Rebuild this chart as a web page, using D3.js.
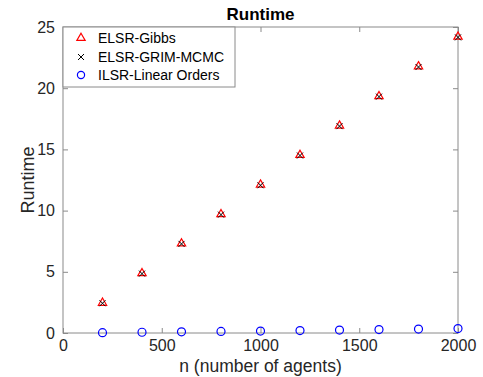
<!DOCTYPE html>
<html>
<head>
<meta charset="utf-8">
<script src="https://cdn.jsdelivr.net/npm/d3@7"></script>
<style>
  body { margin: 0; background: #fff; }
  text { font-family: "Liberation Sans", Arial, Helvetica, sans-serif; }
</style>
</head>
<body>
<div id="chart"></div>
<script>
const agents = [200, 400, 600, 800, 1000, 1200, 1400, 1600, 1800, 2000]
const gibbs = [2.42, 4.84, 7.27, 9.66, 12.08, 14.5, 16.9, 19.3, 21.74, 24.16]
const grim = [2.43, 4.85, 7.28, 9.67, 12.07, 14.5, 16.9, 19.31, 21.73, 24.15]
const linear = [0.03, 0.06, 0.1, 0.13, 0.16, 0.2, 0.24, 0.28, 0.32, 0.36]
const xTicks = [0, 500, 1000, 1500, 2000]
const yTicks = [0, 5, 10, 15, 20, 25]
const legendNames = ["ELSR-Gibbs", "ELSR-GRIM-MCMC", "ILSR-Linear Orders"]

const W = 483, H = 377
const plotL = 63, plotR = 458, plotT = 27, plotB = 333

const svg = d3.select("#chart").append("svg")
    .attr("width", W)
    .attr("height", H)

const x = d3.scaleLinear().domain([0, 2000]).range([plotL, plotR])
const y = d3.scaleLinear().domain([0, 25]).range([plotB, plotT])

const axisCol = "#8a8a8a"
const textCol = "#262626"

// ticks inside, on all four sides
function styleAxis(g) {
    g.select(".domain").remove()
    g.selectAll(".tick line").attr("stroke", axisCol)
    g.selectAll(".tick text").attr("fill", textCol).style("font-size", "16px")
}
svg.append("g").attr("transform", `translate(0,${plotB})`)
    .call(d3.axisBottom(x).tickValues(xTicks).tickSize(-5).tickPadding(7).tickFormat(d3.format("d")))
    .call(styleAxis)
svg.append("g").attr("transform", `translate(0,${plotT})`)
    .call(d3.axisTop(x).tickValues(xTicks).tickSize(-5).tickFormat(""))
    .call(styleAxis)
svg.append("g").attr("transform", `translate(${plotL},0)`)
    .call(d3.axisLeft(y).tickValues(yTicks).tickSize(-5).tickPadding(8))
    .call(styleAxis)
svg.append("g").attr("transform", `translate(${plotR},0)`)
    .call(d3.axisRight(y).tickValues(yTicks).tickSize(-5).tickFormat(""))
    .call(styleAxis)

svg.append("rect")
    .attr("x", plotL).attr("y", plotT)
    .attr("width", plotR - plotL).attr("height", plotB - plotT)
    .attr("fill", "none").attr("stroke", axisCol).attr("stroke-width", 1)

// markers
const tri = d3.symbol().type(d3.symbolTriangle).size(30)
function cross(g, cx, cy, s) {
    g.append("path")
        .attr("d", `M${cx - s},${cy - s}L${cx + s},${cy + s}M${cx - s},${cy + s}L${cx + s},${cy - s}`)
        .attr("stroke", "#000").attr("stroke-width", 1).attr("fill", "none")
}

const pts = svg.append("g")
agents.forEach((n, i) => {
    pts.append("path")
        .attr("d", tri())
        .attr("transform", `translate(${x(n)},${y(gibbs[i]) - 0.5})`)
        .attr("fill", "none").attr("stroke", "#ff0000").attr("stroke-width", 1.2)
    cross(pts, x(n), y(grim[i]), 3)
    pts.append("circle")
        .attr("cx", x(n)).attr("cy", y(linear[i])).attr("r", 4)
        .attr("fill", "none").attr("stroke", "#0000ff").attr("stroke-width", 1.2)
})

// legend
const lg = svg.append("g")
lg.append("rect")
    .attr("x", plotL).attr("y", plotT)
    .attr("width", 172).attr("height", 60)
    .attr("fill", "#fff").attr("stroke", axisCol)
const rowY = [38, 57, 75]
legendNames.forEach((name, i) => {
    const mx = 81, my = rowY[i]
    if (i == 0) {
        lg.append("path").attr("d", tri()).attr("transform", `translate(${mx},${my})`)
            .attr("fill", "none").attr("stroke", "#ff0000").attr("stroke-width", 1.2)
    } else if (i == 1) {
        cross(lg, mx, my, 3)
    } else {
        lg.append("circle").attr("cx", mx).attr("cy", my).attr("r", 3.6)
            .attr("fill", "none").attr("stroke", "#0000ff").attr("stroke-width", 1.2)
    }
    lg.append("text")
        .attr("x", 98).attr("y", my + 5)
        .attr("fill", "#000")
        .style("font-size", "14px")
        .text(name)
})

// labels
svg.append("text")
    .attr("x", (plotL + plotR) / 2).attr("y", 20)
    .attr("text-anchor", "middle")
    .style("font-size", "17px").style("font-weight", "bold")
    .attr("fill", "#000")
    .text("Runtime")

svg.append("text")
    .attr("x", (plotL + plotR) / 2).attr("y", 372)
    .attr("text-anchor", "middle")
    .style("font-size", "17.5px")
    .attr("fill", textCol)
    .text("n (number of agents)")

svg.append("text")
    .attr("transform", `translate(34,${(plotT + plotB) / 2}) rotate(-90)`)
    .attr("text-anchor", "middle")
    .style("font-size", "18px")
    .attr("fill", textCol)
    .text("Runtime")
</script>
</body>
</html>
